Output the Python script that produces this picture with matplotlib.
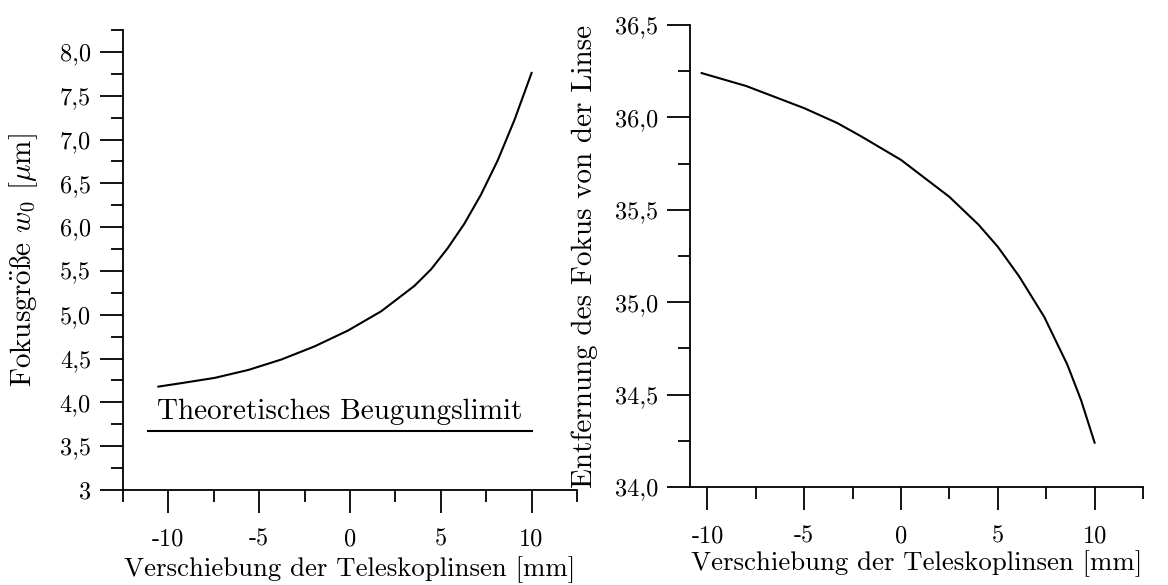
import numpy as np
import matplotlib
matplotlib.use("Agg")
from matplotlib import pyplot as plt
from matplotlib import font_manager, ft2font

plt.rcParams['font.family'] = ['cmr10', 'DejaVu Serif']
plt.rcParams['mathtext.fontset'] = 'cm'
plt.rcParams['axes.formatter.use_mathtext'] = True

# left panel: focus size vs. lens shift
shift_w = [-10.55, -9.27, -7.44, -5.60, -3.77, -1.94, -0.11, 1.72, 3.55,
           4.47, 5.38, 6.30, 7.21, 8.13, 9.05, 10.0]
w0 = [4.18, 4.22, 4.28, 4.37, 4.49, 4.64, 4.82, 5.04, 5.33,
      5.52, 5.76, 6.04, 6.37, 6.76, 7.22, 7.76]
limit_x = [-11.1, 10.0]
limit_w = [3.67, 3.67]

# right panel: focus distance vs. lens shift
shift_d = [-10.3, -8.0, -6.25, -5.0, -3.3, -2.1, 0.0, 2.5, 4.0, 5.0,
           6.1, 7.4, 8.6, 9.3, 10.0]
dist = [36.24, 36.17, 36.10, 36.05, 35.97, 35.90, 35.77, 35.57, 35.42, 35.30,
        35.14, 34.92, 34.66, 34.47, 34.24]

x_ticks = [-10, -5, 0, 5, 10]
x_labels = ['-10', '-5', '0', '5', '10']
w_ticks = [3.0, 3.5, 4.0, 4.5, 5.0, 5.5, 6.0, 6.5, 7.0, 7.5, 8.0]
w_labels = ['3', '3,5', '4,0', '4,5', '5,0', '5,5', '6,0', '6,5', '7,0', '7,5', '8,0']
d_ticks = [34.0, 34.5, 35.0, 35.5, 36.0, 36.5]
d_labels = ['34,0', '34,5', '35,0', '35,5', '36,0', '36,5']

xlabel = 'Verschiebung der Teleskoplinsen [mm]'

TICK_FS = 17.5
XLABEL_FS = 19.3
YLABEL_FS = 21


def cm_char(glyph):
    # cmr10 keeps its glyphs at odd code points, look one up by name
    try:
        f = ft2font.FT2Font(font_manager.findfont('cmr10'))
        for code, idx in f.get_charmap().items():
            if f.get_glyph_name(idx) == glyph:
                return chr(code)
    except Exception:
        pass
    return None


ss = cm_char('germandbls')
if ss is not None:
    w_label = 'Fokusgr' + r'$\ddot{\rm o}$' + ss + r'e $w_0$ [$\mu$m]'
    w_family = None
else:
    w_label = r'Fokusgröße $w_0$ [$\mu$m]'
    w_family = 'DejaVu Serif'


def style_axes(ax):
    ax.spines['top'].set_visible(False)
    ax.spines['right'].set_visible(False)
    for s in ['left', 'bottom']:
        ax.spines[s].set_linewidth(1.3)
    ax.tick_params(which='major', direction='out', length=16.5, width=1.3,
                   labelsize=TICK_FS, pad=6.5)
    ax.tick_params(axis='x', which='major', pad=11)
    ax.tick_params(which='minor', direction='out', length=8.6, width=1.3)


fig = plt.figure(figsize=(11.68, 5.85), dpi=100)

ax1 = fig.add_axes([0.1053, 0.1624, 0.3887, 0.7863])
ax1.plot(shift_w, w0, color='black', lw=1.5)
ax1.plot(limit_x, limit_w, color='black', lw=1.5)
ax1.text(-0.55, 3.81, 'Theoretisches Beugungslimit', ha='center', va='baseline',
         fontsize=21)
ax1.set_xlim(-12.5, 12.5)
ax1.set_ylim(3.0, 8.25)
ax1.set_xticks(x_ticks)
ax1.set_xticklabels(x_labels)
ax1.set_xticks(np.arange(-12.5, 12.6, 5), minor=True)
ax1.set_yticks(w_ticks)
ax1.set_yticklabels(w_labels)
ax1.set_yticks(np.arange(3.25, 8.3, 0.5), minor=True)
ax1.set_xlabel(xlabel, fontsize=XLABEL_FS)
if w_family:
    ax1.set_ylabel(w_label, fontsize=YLABEL_FS, family=w_family)
else:
    ax1.set_ylabel(w_label, fontsize=YLABEL_FS)
ax1.yaxis.set_label_coords(-0.183, 0.5)
ax1.xaxis.set_label_coords(0.5, -0.143)
style_axes(ax1)

ax2 = fig.add_axes([0.5908, 0.1675, 0.3878, 0.7897])
ax2.plot(shift_d, dist, color='black', lw=1.5)
ax2.set_xlim(-10.9, 12.5)
ax2.set_ylim(34.0, 36.5)
ax2.set_xticks(x_ticks)
ax2.set_xticklabels(x_labels)
ax2.set_xticks(np.arange(-7.5, 12.6, 5), minor=True)
ax2.set_yticks(d_ticks)
ax2.set_yticklabels(d_labels)
ax2.set_yticks(np.arange(34.25, 36.3, 0.5), minor=True)
ax2.set_xlabel(xlabel, fontsize=XLABEL_FS)
ax2.set_ylabel('Entfernung des Fokus von der Linse', fontsize=YLABEL_FS)
ax2.yaxis.set_label_coords(-0.203, 0.5)
ax2.xaxis.set_label_coords(0.5, -0.136)
style_axes(ax2)

fig.savefig('out.png', dpi=100)
